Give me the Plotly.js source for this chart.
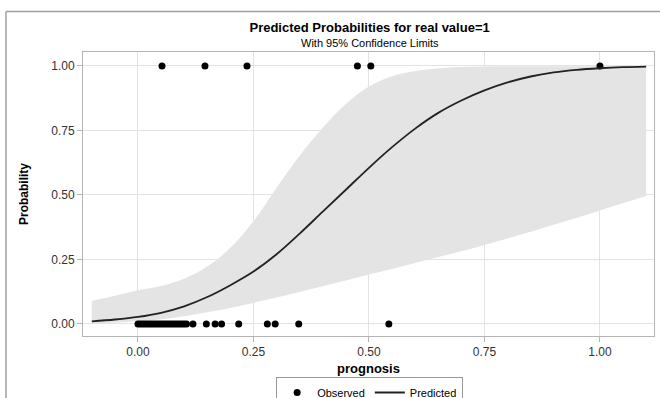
<!DOCTYPE html>
<html>
<head>
<meta charset="utf-8">
<script src="https://cdn.plot.ly/plotly-3.0.1.min.js"></script>
<style>html,body{margin:0;padding:0;background:#fff;}#chart{width:660px;height:398px;}</style>
</head>
<body>
<div id="chart"></div>
<script>
// Predicted curve and 95% confidence limits
const gridX = [-0.10,-0.05,0.00,0.05,0.10,0.15,0.20,0.25,0.30,0.35,0.40,0.45,0.50,0.55,0.60,0.65,0.70,0.75,0.80,0.85,0.90,0.95,1.00,1.05,1.10];
const predicted = [0.010,0.017,0.027,0.043,0.068,0.104,0.150,0.203,0.270,0.350,0.435,0.520,0.605,0.685,0.757,0.818,0.866,0.905,0.936,0.959,0.975,0.985,0.991,0.995,0.997];
const upperCL = [0.089,0.109,0.130,0.147,0.175,0.222,0.295,0.398,0.528,0.652,0.760,0.852,0.920,0.960,0.980,0.991,0.996,0.998,0.999,0.999,0.999,0.999,0.999,0.999,0.999];
const lowerCL = [0.002,0.005,0.010,0.018,0.030,0.045,0.062,0.082,0.102,0.124,0.146,0.168,0.191,0.213,0.236,0.259,0.282,0.306,0.331,0.357,0.384,0.411,0.440,0.468,0.496];

// Observed outcomes
const obsX1 = [0.052,0.145,0.236,0.475,0.504,1.000];
const obsY1 = [1,1,1,1,1,1];
const obsX0 = [0.000,0.005,0.010,0.015,0.020,0.025,0.030,0.035,0.040,0.045,0.050,0.055,0.060,0.065,0.070,0.075,0.080,0.085,0.090,0.095,0.100,0.105,0.119,0.148,0.167,0.181,0.218,0.280,0.297,0.348,0.543];
const obsY0 = obsX0.map(() => 0);

const xTicks = [0, 0.25, 0.5, 0.75, 1.0];
const xTickText = ['0.00','0.25','0.50','0.75','1.00'];
const yTicks = [0, 0.25, 0.5, 0.75, 1.0];
const yTickText = ['0.00','0.25','0.50','0.75','1.00'];

const FONT = '"Liberation Sans", Arial, sans-serif';

const traces = [
  {x: gridX, y: lowerCL, type: 'scatter', mode: 'lines', line: {width: 0, shape: 'spline'}, showlegend: false, hoverinfo: 'skip'},
  {x: gridX, y: upperCL, type: 'scatter', mode: 'lines', line: {width: 0, shape: 'spline'}, fill: 'tonexty', fillcolor: '#e4e4e4', showlegend: false, hoverinfo: 'skip'},
  {x: obsX1.concat(obsX0), y: obsY1.concat(obsY0), type: 'scatter', mode: 'markers', name: 'Observed', legendrank: 1,
   marker: {color: '#000', size: 7, symbol: 'circle'}},
  {x: gridX, y: predicted, type: 'scatter', mode: 'lines', name: 'Predicted', legendrank: 2,
   line: {color: '#222', width: 1.8, shape: 'spline'}}
];

const layout = {
  width: 660, height: 398,
  margin: {l: 83, r: 6, t: 52, b: 62, autoexpand: false},
  paper_bgcolor: '#fff', plot_bgcolor: '#fff',
  font: {family: FONT, size: 12, color: '#333'},
  title: {text: '<b>Predicted Probabilities for real value=1</b>', font: {family: FONT, size: 13, color: '#000'},
          x: 0.56, xanchor: 'center', y: 0.932, yanchor: 'middle'},
  showlegend: true,
  legend: {orientation: 'h', x: 0.502, xanchor: 'center', y: -0.1444, yanchor: 'top', traceorder: 'normal',
           bordercolor: '#999', borderwidth: 1, font: {family: FONT, size: 11, color: '#000'},
           tracegroupgap: 0},
  xaxis: {
    range: [-0.119, 1.117], tickvals: xTicks, ticktext: xTickText,
    showgrid: true, gridcolor: '#e3e3e3', zeroline: false,
    showline: true, linecolor: '#b4b4b4', mirror: true, linewidth: 1,
    ticks: 'outside', ticklen: 5, tickcolor: '#b4b4b4',
    tickfont: {family: FONT, size: 12, color: '#333'},
    title: {text: '<b>prognosis</b>', font: {family: FONT, size: 13, color: '#000'}, standoff: 5}
  },
  yaxis: {
    range: [-0.047, 1.054], tickvals: yTicks, ticktext: yTickText,
    showgrid: true, gridcolor: '#e3e3e3', zeroline: false,
    showline: true, linecolor: '#b4b4b4', mirror: true, linewidth: 1,
    ticks: 'outside', ticklen: 5, tickcolor: '#b4b4b4',
    tickfont: {family: FONT, size: 12, color: '#333'},
    title: {text: '<b>Probability</b>', font: {family: FONT, size: 12, color: '#000'}, standoff: 20}
  },
  annotations: [
    {text: 'With 95% Confidence Limits', xref: 'paper', yref: 'paper', x: 0.502, y: 1.03,
     xanchor: 'center', yanchor: 'middle', showarrow: false, font: {family: FONT, size: 11, color: '#000'}}
  ],
  shapes: [
    {type: 'line', xref: 'paper', yref: 'paper', x0: -0.1349, x1: -0.1349, y0: 1.1426, y1: -0.25, line: {color: '#a0a0a0', width: 1.5}},
    {type: 'line', xref: 'paper', yref: 'paper', x0: -0.1349, x1: 1.02, y0: 1.1426, y1: 1.1426, line: {color: '#a0a0a0', width: 1.5}}
  ]
};

Plotly.newPlot('chart', traces, layout, {displayModeBar: false, staticPlot: true});
</script>
</body>
</html>
